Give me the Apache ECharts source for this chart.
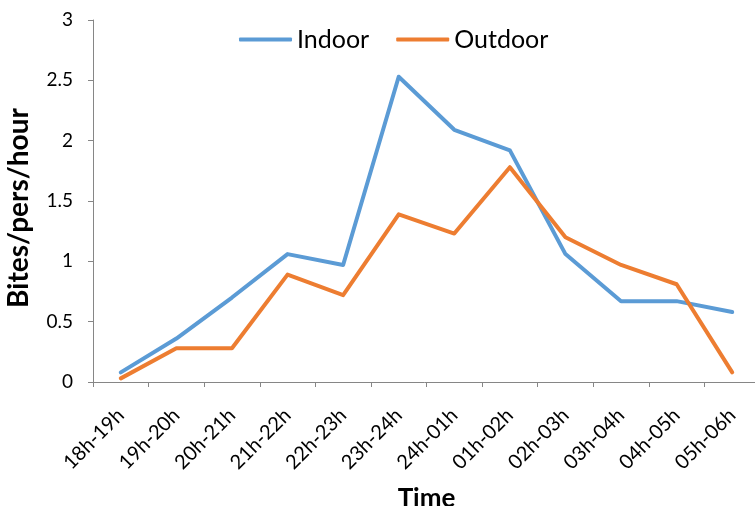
<!DOCTYPE html>
<html>
<head>
<meta charset="utf-8">
<script src="https://cdn.jsdelivr.net/npm/echarts@6/dist/echarts.min.js"></script>
<style>
  html, body { margin: 0; padding: 0; background: #fff; }
  #chart { width: 755px; height: 506px; }
</style>
</head>
<body>
<div id="chart"></div>
<script>
// Hourly biting rates through the night
const timeSlots = ['18h-19h', '19h-20h', '20h-21h', '21h-22h', '22h-23h', '23h-24h',
                   '24h-01h', '01h-02h', '02h-03h', '03h-04h', '04h-05h', '05h-06h'];
const indoor  = [0.08, 0.36, 0.70, 1.06, 0.97, 2.53, 2.09, 1.92, 1.06, 0.67, 0.67, 0.58];
const outdoor = [0.03, 0.28, 0.28, 0.89, 0.72, 1.39, 1.23, 1.78, 1.20, 0.97, 0.81, 0.08];
const yTicks = { min: 0, max: 3, step: 0.5 };

const FONT = 'Lato, "Open Sans", sans-serif';
const AXIS_GREY = '#868686';

const chart = echarts.init(document.getElementById('chart'), null, { renderer: 'canvas' });

chart.setOption({
  animation: false,
  backgroundColor: '#ffffff',
  textStyle: { fontFamily: FONT },
  grid: { left: 93, top: 20, width: 667, height: 362, containLabel: false, outerBoundsMode: 'none' },
  legend: {
    left: 234, top: 22,
    icon: 'roundRect',
    itemWidth: 53, itemHeight: 4, itemGap: 27,
    textStyle: { fontSize: 25, color: '#000', fontFamily: FONT },
    data: ['Indoor', 'Outdoor']
  },
  xAxis: {
    type: 'category',
    data: timeSlots,
    boundaryGap: true,
    name: 'Time',
    nameLocation: 'middle',
    nameGap: 104,
    nameTextStyle: { fontSize: 26, fontWeight: 'bold', color: '#000', fontFamily: FONT },
    axisLine: { lineStyle: { color: AXIS_GREY, width: 1 } },
    axisTick: { show: true, length: 5, lineStyle: { color: AXIS_GREY } },
    axisLabel: { interval: 0, rotate: 45, margin: 30, fontSize: 20, color: '#000', fontFamily: FONT },
    splitLine: { show: false }
  },
  yAxis: {
    type: 'value',
    min: yTicks.min, max: yTicks.max, interval: yTicks.step,
    name: 'Bites/pers/hour',
    nameLocation: 'middle',
    nameGap: 60,
    nameTextStyle: { fontSize: 28, fontWeight: 'bold', color: '#000', fontFamily: FONT, padding: [0, 14, 0, 0] },
    axisLine: { show: true, lineStyle: { color: AXIS_GREY, width: 1 } },
    axisTick: { show: true, length: 5, lineStyle: { color: AXIS_GREY } },
    axisLabel: { margin: 20, fontSize: 19, color: '#000', fontFamily: FONT },
    splitLine: { show: false }
  },
  series: [
    {
      name: 'Indoor', type: 'line', data: indoor,
      symbol: 'none', showSymbol: false,
      lineStyle: { color: '#5B9BD5', width: 4, cap: 'round', join: 'round' },
      itemStyle: { color: '#5B9BD5' }
    },
    {
      name: 'Outdoor', type: 'line', data: outdoor,
      symbol: 'none', showSymbol: false,
      lineStyle: { color: '#ED7D31', width: 4, cap: 'round', join: 'round' },
      itemStyle: { color: '#ED7D31' }
    }
  ]
});
</script>
</body>
</html>
